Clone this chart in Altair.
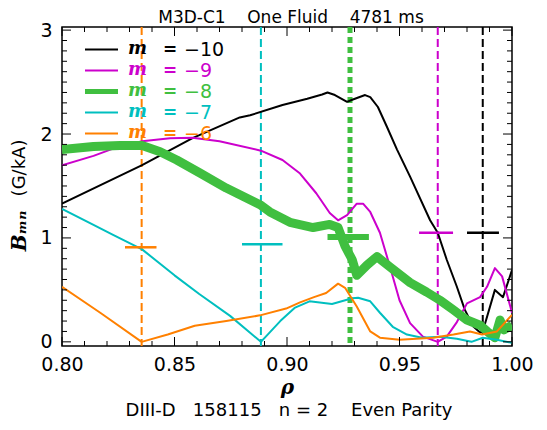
import altair as alt
import pandas as pd

W, H = 450, 319
BLACK = "#000000"
MAG = "#CC00CC"
GRN = "#40BF40"
CYA = "#00BFBF"
ORA = "#FF8000"

# ---- data ----
rho_m10 = [0.800, 0.8356, 0.858, 0.879, 0.8836, 0.898, 0.909, 0.9156, 0.918, 0.9213, 0.9267, 0.929,
           0.9347, 0.937, 0.9404, 0.9444, 0.9489, 0.9547, 0.9636, 0.967, 0.971, 0.9755, 0.979, 0.9827,
           0.9858, 0.987, 0.9924, 0.996, 1.0]
b_m10 = [1.33, 1.70, 1.96, 2.16, 2.18, 2.28, 2.34, 2.38, 2.40, 2.375, 2.31, 2.33,
         2.375, 2.355, 2.26, 2.07, 1.85, 1.59, 1.17, 1.05, 0.79, 0.53, 0.31, 0.15,
         0.09, 0.10, 0.50, 0.43, 0.69]

rho_m9 = [0.800, 0.814, 0.8227, 0.8356, 0.848, 0.858, 0.870, 0.8884, 0.898, 0.9058, 0.913, 0.919,
          0.9227, 0.9267, 0.931, 0.9338, 0.937, 0.9413, 0.9458, 0.950, 0.9547, 0.9604, 0.967, 0.971,
          0.9755, 0.980, 0.9858, 0.9889, 0.9924, 0.9956, 1.0]
b_m9 = [1.70, 1.79, 1.86, 1.93, 1.96, 1.965, 1.93, 1.84, 1.75, 1.62, 1.43, 1.24,
        1.17, 1.22, 1.33, 1.33, 1.25, 1.05, 0.72, 0.40, 0.18, 0.05, 0.0, 0.05,
        0.19, 0.37, 0.43, 0.53, 0.71, 0.63, 0.28]

rho_m8 = [0.800, 0.814, 0.8258, 0.8356, 0.8436, 0.851, 0.8613, 0.873, 0.888, 0.8924, 0.9013, 0.9116,
          0.919, 0.9227, 0.9258, 0.929, 0.931, 0.9356, 0.940, 0.9458, 0.9547, 0.962, 0.968, 0.9738,
          0.980, 0.9858, 0.989, 0.9924, 0.9947, 0.9964, 1.0]
b_m8 = [1.85, 1.88, 1.89, 1.89, 1.83, 1.75, 1.625, 1.48, 1.32, 1.25, 1.15, 1.10,
        1.13, 1.10, 0.92, 0.79, 0.64, 0.74, 0.82, 0.72, 0.57, 0.48, 0.40, 0.31,
        0.21, 0.16, 0.10, 0.04, 0.21, 0.115, 0.16]

rho_m7 = [0.800, 0.814, 0.8227, 0.8356, 0.850, 0.861, 0.8747, 0.8884, 0.897, 0.9036, 0.910, 0.920,
          0.929, 0.9316, 0.937, 0.9413, 0.947, 0.9533, 0.960, 0.968, 0.9755, 0.982, 0.987, 0.9933, 1.0]
b_m7 = [1.28, 1.125, 1.03, 0.89, 0.64, 0.46, 0.25, 0.0, 0.20, 0.33, 0.39, 0.365,
        0.42, 0.425, 0.39, 0.28, 0.145, 0.07, 0.04, 0.05, 0.03, 0.0, 0.04, 0.02, -0.01]

rho_m6 = [0.800, 0.817, 0.8354, 0.847, 0.859, 0.873, 0.888, 0.8996, 0.9058, 0.912, 0.9174, 0.9227,
          0.9258, 0.931, 0.937, 0.9413, 0.950, 0.965, 0.974, 0.9813, 0.9867, 0.9933, 1.0]
b_m6 = [0.53, 0.28, 0.0, 0.07, 0.155, 0.20, 0.255, 0.32, 0.38, 0.43, 0.47, 0.56,
        0.52, 0.34, 0.10, 0.04, 0.02, 0.04, 0.07, 0.10, 0.07, 0.10, 0.26]

# resonant surfaces (vertical dashed) and horizontal markers
res_rho = [0.8354, 0.8884, 0.928, 0.967, 0.987]
bar_val = [0.91, 0.94, 1.01, 1.05, 1.05]
bar_lo = [0.828, 0.880, 0.918, 0.9587, 0.980]
bar_hi = [0.842, 0.898, 0.9364, 0.9738, 0.9942]
res_colors = [ORA, CYA, GRN, MAG, BLACK]
res_widths = [2, 2, 5, 2, 2]

legend_labels = ["\u221210", "\u22129", "\u22128", "\u22127", "\u22126"]
legend_colors = [BLACK, MAG, GRN, CYA, ORA]
legend_widths = [2, 2, 5, 2, 2]

x_major = [0.80, 0.85, 0.90, 0.95, 1.00]
x_minor = [round(0.80 + 0.01 * i, 2) for i in range(21) if i % 5 != 0]
y_major = [0, 1, 2, 3]
y_minor = [round(0.1 * i, 1) for i in range(30) if i % 10 != 0]

title_text = "M3D-C1\u00a0\u00a0\u00a0\u00a0One Fluid\u00a0\u00a0\u00a0\u00a04781 ms"
caption_text = "DIII-D\u00a0\u00a0\u00a0158115\u00a0\u00a0\u00a0n = 2\u00a0\u00a0\u00a0\u00a0Even Parity"

# ---- scales / axes ----
xs = alt.Scale(domain=[0.8, 1.0], nice=False, zero=False)
ys = alt.Scale(domain=[-0.04, 3.03], nice=False, zero=False)
FONT = "DejaVu Sans"
xaxis = alt.Axis(values=x_major, format=".2f", ticks=False, domain=False, grid=False,
                 labelFontSize=19, labelFont=FONT, labelPadding=9, labelColor="black",
                 labelFlush=False, labelOverlap=False,
                 title="\u03c1", titleFont="DejaVu Serif", titleFontStyle="italic",
                 titleFontWeight="bold", titleFontSize=20, titlePadding=3, titleColor="black")
yaxis = alt.Axis(values=y_major, format="d", ticks=False, domain=False, grid=False,
                 labelFontSize=19, labelFont=FONT, labelPadding=10, labelColor="black",
                 labelOverlap=False, title=None)


def X(f):
    return alt.X(f, type="quantitative", scale=xs, axis=xaxis)


def Y(f):
    return alt.Y(f, type="quantitative", scale=ys, axis=yaxis)


one = pd.DataFrame({"k": [0]})
layers = []

# resonance dashed lines
for r, c, w in zip(res_rho, res_colors, res_widths):
    dash = [6, 4] if w > 2 else [8, 4]
    layers.append(alt.Chart(pd.DataFrame({"rho": [r]})).mark_rule(
        color=c, strokeWidth=w, strokeDash=dash).encode(
        x=X("rho"), y=alt.value(0), y2=alt.value(H)))

# curves
series = [(rho_m10, b_m10, BLACK, 2), (rho_m9, b_m9, MAG, 2), (rho_m8, b_m8, GRN, 9),
          (rho_m7, b_m7, CYA, 2), (rho_m6, b_m6, ORA, 2)]
for rr, bb, c, w in series:
    layers.append(alt.Chart(pd.DataFrame({"rho": rr, "b": bb})).mark_line(
        color=c, strokeWidth=w, clip=True, strokeJoin="round").encode(x=X("rho"), y=Y("b")))

# horizontal markers
for lo, hi, v, c, w in zip(bar_lo, bar_hi, bar_val, res_colors, res_widths):
    layers.append(alt.Chart(pd.DataFrame({"lo": [lo], "hi": [hi], "v": [v]})).mark_rule(
        color=c, strokeWidth=w + 1 if w > 2 else 2.5).encode(
        x=X("lo"), x2="hi", y=Y("v")))

# ticks (inside, on all four sides)
for vals, ln in ((x_major, 9), (x_minor, 5)):
    d = pd.DataFrame({"t": vals})
    layers.append(alt.Chart(d).mark_rule(color="black", strokeWidth=1).encode(
        x=X("t"), y=alt.value(H), y2=alt.value(H - ln)))
    layers.append(alt.Chart(d).mark_rule(color="black", strokeWidth=1).encode(
        x=X("t"), y=alt.value(0), y2=alt.value(ln)))
for vals, ln in ((y_major, 9), (y_minor, 5)):
    d = pd.DataFrame({"t": vals})
    layers.append(alt.Chart(d).mark_rule(color="black", strokeWidth=1).encode(
        y=Y("t"), x=alt.value(0), x2=alt.value(ln)))
    layers.append(alt.Chart(d).mark_rule(color="black", strokeWidth=1).encode(
        y=Y("t"), x=alt.value(W), x2=alt.value(W - ln)))

# legend
for i, (lab, c, w) in enumerate(zip(legend_labels, legend_colors, legend_widths)):
    yy = 22.5 + 21 * i
    layers.append(alt.Chart(one).mark_rule(color=c, strokeWidth=w).encode(
        x=alt.value(23), x2=alt.value(56), y=alt.value(yy)))
    layers.append(alt.Chart(one).mark_text(
        text="m", color=c, font="DejaVu Serif", fontStyle="italic", fontWeight="bold",
        fontSize=18, align="left", baseline="middle").encode(x=alt.value(66), y=alt.value(yy - 1)))
    layers.append(alt.Chart(one).mark_text(
        text="=", color=c, font=FONT, fontWeight="bold", fontSize=17, align="left",
        baseline="middle").encode(x=alt.value(101), y=alt.value(yy)))
    layers.append(alt.Chart(one).mark_text(
        text=lab, color=c, font=FONT, fontSize=19, align="left",
        baseline="middle").encode(x=alt.value(122), y=alt.value(yy)))

# y title (rotated)
layers.append(alt.Chart(one).mark_text(
    text="(G/kA)", color="black", font=FONT, fontSize=18, angle=270, align="center",
    baseline="middle").encode(x=alt.value(-42), y=alt.value(141)))
layers.append(alt.Chart(one).mark_text(
    text="B\u2098\u2099", color="black", font="DejaVu Serif", fontStyle="italic",
    fontWeight="bold", fontSize=20, angle=270, align="center",
    baseline="middle").encode(x=alt.value(-42), y=alt.value(204)))

# top title and bottom caption
layers.append(alt.Chart(one).mark_text(
    text=title_text, color="black", font=FONT, fontSize=17, align="center",
    baseline="middle").encode(x=alt.value(229), y=alt.value(-9)))
layers.append(alt.Chart(one).mark_text(
    text=caption_text, color="black", font=FONT, fontSize=18, align="center",
    baseline="middle").encode(x=alt.value(227), y=alt.value(384)))

chart = alt.layer(*layers).properties(
    width=W, height=H,
    autosize=alt.AutoSizeParams(type="none"),
    padding={"left": 54, "top": 19, "right": 27, "bottom": 76},
    background="white",
).configure_view(stroke="black", strokeWidth=1.5)

chart.save("out.html", embed_options={"renderer": "svg", "actions": False})
